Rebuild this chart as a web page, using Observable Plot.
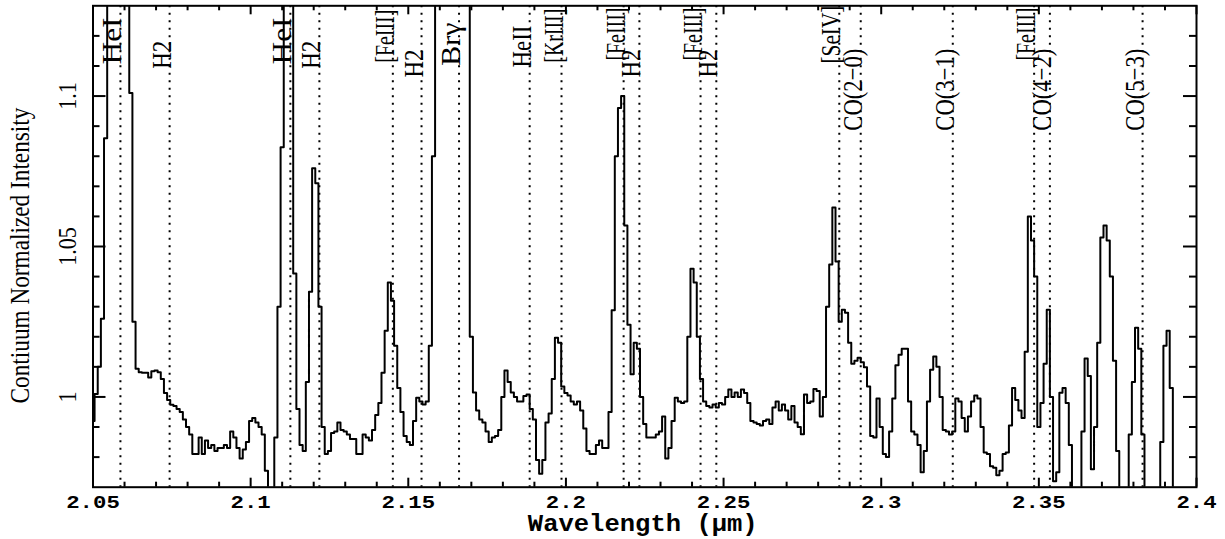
<!DOCTYPE html>
<html>
<head>
<meta charset="utf-8">
<script src="https://cdn.jsdelivr.net/npm/d3@7"></script>
<script src="https://cdn.jsdelivr.net/npm/@observablehq/plot@0.6"></script>
<style>
  html, body { margin: 0; padding: 0; background: #ffffff; }
  #chart svg { display: block; }
</style>
</head>
<body>
<div id="chart"></div>
<script>
// ---- Data -------------------------------------------------------------
// Spectrum sampled every 0.001 µm from 2.050 µm (values above 1.13 / below 0.97 run off the plot)
const wavelengthStart = 2.05;
const wavelengthStep = 0.001;
const intensity = [
  // 2.050 - 2.059
  0.992, 1.001, 1.010, 1.026, 1.086, 1.25, 1.25, 1.25, 1.25, 1.25,
  // 2.060 - 2.069
  1.25, 1.25, 1.101, 1.025, 1.0094, 1.0082, 1.008, 1.008, 1.0065, 1.0085,
  // 2.070 - 2.079
  1.0088, 1.0082, 1.006, 1.0013, 0.999, 0.9974, 0.997, 0.996, 0.995, 0.9925,
  // 2.080 - 2.089
  0.990, 0.9875, 0.981, 0.981, 0.9865, 0.981, 0.9855, 0.983, 0.984, 0.982,
  // 2.090 - 2.099
  0.983, 0.983, 0.984, 0.983, 0.9885, 0.9865, 0.983, 0.9795, 0.9825, 0.985,
  // 2.100 - 2.109
  0.992, 0.993, 0.9915, 0.990, 0.9875, 0.9755, 0.965, 0.968, 0.9865, 1.03,
  // 2.110 - 2.119
  1.083, 1.25, 1.25, 1.25, 1.041, 0.996, 0.984, 0.982, 1.005, 1.035,
  // 2.120 - 2.129
  1.076, 1.071, 1.03, 0.99, 0.981, 0.982, 0.988, 0.9885, 0.9915, 0.989,
  // 2.130 - 2.139
  0.9885, 0.9875, 0.986, 0.986, 0.981, 0.981, 0.9875, 0.9865, 0.9855, 0.989,
  // 2.140 - 2.149
  0.994, 0.998, 1.008, 1.022, 1.038, 1.032, 1.017, 1.003, 0.995, 0.987,
  // 2.150 - 2.159
  0.985, 0.984, 0.992, 0.9997, 0.9985, 0.9975, 0.9985, 1.017, 1.08, 1.25,
  // 2.160 - 2.169
  1.25, 1.25, 1.25, 1.25, 1.25, 1.25, 1.25, 1.25, 1.25, 1.25,
  // 2.170 - 2.179
  1.02, 1.0015, 0.9955, 0.9925, 0.9915, 0.9885, 0.985, 0.9865, 0.987, 0.989,
  // 2.180 - 2.189
  1.0, 1.0088, 1.005, 1.0015, 1.0, 0.9985, 0.9985, 1.0003, 1.0008, 0.996,
  // 2.190 - 2.199
  0.9925, 0.979, 0.9745, 0.979, 0.9915, 0.9945, 1.006, 1.0197, 1.018, 1.0035,
  // 2.200 - 2.209
  1.0013, 1.0005, 0.9985, 0.9975, 0.9985, 0.9955, 0.9895, 0.982, 0.981, 0.981,
  // 2.210 - 2.219
  0.984, 0.9855, 0.983, 0.983, 0.995, 1.0288, 1.08, 1.096, 1.1, 1.057,
  // 2.220 - 2.229
  1.024, 1.0075, 1.018, 1.016, 1.0, 0.991, 0.9865, 0.9865, 0.9865, 0.9875,
  // 2.230 - 2.239
  0.9885, 0.9935, 0.9795, 0.983, 0.992, 0.9997, 0.9985, 0.998, 0.9985, 1.02,
  // 2.240 - 2.249
  1.0426, 1.038, 1.02, 1.006, 0.9985, 0.997, 0.9965, 0.9975, 0.9965, 0.998,
  // 2.250 - 2.259
  0.9975, 1.0, 1.0025, 1.0, 1.0015, 1.0, 1.0025, 1.0013, 0.998, 0.992,
  // 2.260 - 2.269
  0.9915, 0.991, 0.9905, 0.992, 0.9925, 0.991, 0.9965, 0.9985, 0.9955, 0.9975,
  // 2.270 - 2.279
  0.9955, 0.9925, 0.997, 0.9915, 0.990, 0.9876, 1.0008, 0.998, 0.9985, 1.0026,
  // 2.280 - 2.289
  1.002, 0.9935, 1.0, 1.03, 1.044, 1.063, 1.045, 1.025, 1.029, 1.028,
  // 2.290 - 2.299
  1.018, 1.011, 1.012, 1.013, 1.0115, 1.0099, 1.0035, 0.987, 0.9865, 0.9995,
  // 2.300 - 2.309
  0.990, 0.981, 0.980, 0.9885, 0.9995, 1.0105, 1.014, 1.016, 1.016, 0.9985,
  // 2.310 - 2.319
  0.9885, 0.9875, 0.984, 0.975, 0.982, 0.9985, 1.009, 1.0134, 1.010, 1.0,
  // 2.320 - 2.329
  0.989, 0.9885, 0.9875, 0.9885, 0.9995, 0.9985, 0.993, 0.9885, 0.9935, 0.9985,
  // 2.330 - 2.339
  1.0005, 0.9995, 0.990, 0.9815, 0.981, 0.977, 0.9765, 0.974, 0.9755, 0.981,
  // 2.340 - 2.349
  0.9815, 0.9905, 1.003, 0.999, 0.9955, 0.993, 1.015, 1.060, 1.052, 1.04,
  // 2.350 - 2.359
  0.990, 0.998, 1.011, 1.029, 1.0, 0.972, 0.975, 1.0014, 1.003, 0.998,
  // 2.360 - 2.369
  0.984, 0.968, 0.96, 0.96, 0.9885, 1.0128, 1.007, 0.976, 0.990, 1.018,
  // 2.370 - 2.379
  1.053, 1.057, 1.052, 1.04, 1.012, 0.982, 0.966, 0.962, 0.965, 0.9875,
  // 2.380 - 2.389
  1.005, 1.023, 1.016, 0.9875, 0.962, 0.96, 0.96, 0.96, 0.966, 0.985,
  // 2.390 - 2.400
  1.017, 1.022, 1.003, 0.96, 0.96, 0.96, 0.96, 0.96, 0.96, 0.96, 0.96
];

// Identified lines (µm), their labels, and the data-y where each label starts
const lineWavelengths = [2.0587, 2.0743, 2.1126, 2.1218, 2.1451, 2.1542, 2.1661, 2.1885, 2.1986,
  2.2183, 2.2233, 2.2427, 2.2477, 2.2867, 2.2935, 2.3227, 2.3485, 2.3535, 2.3829];
const lineLabels = ["HeI", "H2", "HeI", "H2", "[FeIII]", "H2", "Brγ", "HeII", "[KrIII]",
  "[FeIII]", "H2", "[FeIII]", "H2", "[SeIV]", "CO(2−0)", "CO(3−1)", "[FeIII]", "CO(4−2)", "CO(5−3)"];
const labelStartY = [1.1105, 1.1091, 1.1105, 1.1091, 1.1111, 1.1062, 1.1101, 1.1095, 1.1111,
  1.1118, 1.1062, 1.1118, 1.1062, 1.1108, 1.0885, 1.0885, 1.1118, 1.0885, 1.0885];

// Axes
const xMajorTicks = [2.05, 2.1, 2.15, 2.2, 2.25, 2.3, 2.35, 2.4];
const xTickLabels = ["2.05", "2.1", "2.15", "2.2", "2.25", "2.3", "2.35", "2.4"];
const xMinorTicks = [2.06, 2.07, 2.08, 2.09, 2.11, 2.12, 2.13, 2.14, 2.16, 2.17, 2.18, 2.19,
  2.21, 2.22, 2.23, 2.24, 2.26, 2.27, 2.28, 2.29, 2.31, 2.32, 2.33, 2.34, 2.36, 2.37, 2.38, 2.39];
const yMajorTicks = [1, 1.05, 1.1];
const yTickLabels = ["1", "1.05", "1.1"];
const yMinorTicks = [0.98, 0.99, 1.01, 1.02, 1.03, 1.04, 1.06, 1.07, 1.08, 1.09, 1.11, 1.12];
const xDomain = [2.05, 2.4];
const yDomain = [0.97, 1.13];
const xTitle = "Wavelength (μm)";
const yTitle = "Contiuum Normalized Intensity";

// ---- Layout / style ---------------------------------------------------
const W = 1225, H = 539;
const mL = 92.5, mR = 29, mT = 5.3, mB = 52.3;
const FW = W - mL - mR, FH = H - mT - mB;
const SERIF = "'Liberation Serif', 'Times New Roman', serif";
const MONO = "'Liberation Mono', 'Courier New', monospace";

const spectrum = intensity.map((v, i) => ({ w: +(wavelengthStart + i * wavelengthStep).toFixed(4), v }));
const lines = lineWavelengths.map((w, i) => ({ w, label: lineLabels[i], y: labelStartY[i] }));
const xTicks = xMajorTicks.map((x, i) => ({ x, label: xTickLabels[i] }));
const yTicks = yMajorTicks.map((y, i) => ({ y, label: yTickLabels[i] }));

const tickStyle = { stroke: "black", strokeWidth: 2 };

const svg = Plot.plot({
  width: W, height: H,
  marginLeft: mL, marginRight: mR, marginTop: mT, marginBottom: mB,
  x: { domain: xDomain, axis: null },
  y: { domain: yDomain, axis: null },
  style: { background: "white", overflow: "visible" },
  marks: [
    Plot.line(spectrum, { x: "w", y: "v", curve: "step", stroke: "black", strokeWidth: 2, clip: true }),
    Plot.ruleX(lines, { x: "w", stroke: "black", strokeWidth: 2, strokeDasharray: "2,5.5" }),
    // text mark #0: line labels
    Plot.text(lines, { x: "w", y: "y", text: "label", rotate: -90, textAnchor: "start", lineAnchor: "bottom",
      dx: 1, fontFamily: SERIF, fontSize: 28, fill: "black" }),
    // ticks (inward, on all four sides)
    Plot.ruleX(xMajorTicks, { ...tickStyle, insetTop: FH - 9 }),
    Plot.ruleX(xMinorTicks, { ...tickStyle, insetTop: FH - 5 }),
    Plot.ruleX(xMajorTicks, { ...tickStyle, insetBottom: FH - 9 }),
    Plot.ruleX(xMinorTicks, { ...tickStyle, insetBottom: FH - 5 }),
    Plot.ruleY(yMajorTicks, { ...tickStyle, insetRight: FW - 13 }),
    Plot.ruleY(yMinorTicks, { ...tickStyle, insetRight: FW - 7 }),
    Plot.ruleY(yMajorTicks, { ...tickStyle, insetLeft: FW - 13 }),
    Plot.ruleY(yMinorTicks, { ...tickStyle, insetLeft: FW - 7 }),
    Plot.frame({ stroke: "black", strokeWidth: 2 }),
    // text mark #1: x tick labels
    Plot.text(xTicks, { x: "x", text: "label", frameAnchor: "bottom", lineAnchor: "bottom", dy: 20.3,
      fontFamily: MONO, fontWeight: "bold", fontSize: 19, fill: "black" }),
    // text mark #2: y tick labels
    Plot.text(yTicks, { y: "y", text: "label", frameAnchor: "left", rotate: -90, textAnchor: "middle",
      lineAnchor: "bottom", dx: -17.5, fontFamily: SERIF, fontSize: 26, fill: "black" }),
    // text mark #3: x title
    Plot.text([xTitle], { text: d => d, frameAnchor: "bottom", lineAnchor: "bottom", dy: 43.5, dx: -2,
      fontFamily: MONO, fontWeight: "bold", fontSize: 23, fill: "black" }),
    // text mark #4: y title
    Plot.text([yTitle], { text: d => d, frameAnchor: "left", rotate: -90, textAnchor: "middle", lineAnchor: "bottom",
      dx: -64.5, dy: 9, fontFamily: SERIF, fontSize: 27, fill: "black" })
  ]
});

document.getElementById("chart").append(svg);

// Condense / expand glyph widths (along the reading direction) to mimic the original plotting font
const textGroups = svg.querySelectorAll('g[aria-label="text"]');
const labelLength = { "HeI": 47, "H2": 28, "[FeIII]": 53, "Brγ": 43, "HeII": 42, "[KrIII]": 54, "[SeIV]": 58 };
function fit(group, fn) {
  if (!group) return;
  group.querySelectorAll("text").forEach(t => {
    const target = fn(t);
    if (!target) return;
    const natural = t.getComputedTextLength();
    const tr = t.getAttribute("transform");
    if (tr && natural > 0) {
      t.setAttribute("transform", `${tr} scale(${(target / natural).toFixed(4)},1)`);
    } else {
      t.setAttribute("textLength", target);
      t.setAttribute("lengthAdjust", "spacingAndGlyphs");
    }
  });
}
fit(textGroups[0], t => labelLength[t.textContent] || (t.textContent.startsWith("CO") ? 82 : null));
fit(textGroups[1], t => t.textContent.length * 13.4);
fit(textGroups[2], t => t.getComputedTextLength() * 0.85);
fit(textGroups[3], () => 230);
fit(textGroups[4], () => 296);
</script>
</body>
</html>
